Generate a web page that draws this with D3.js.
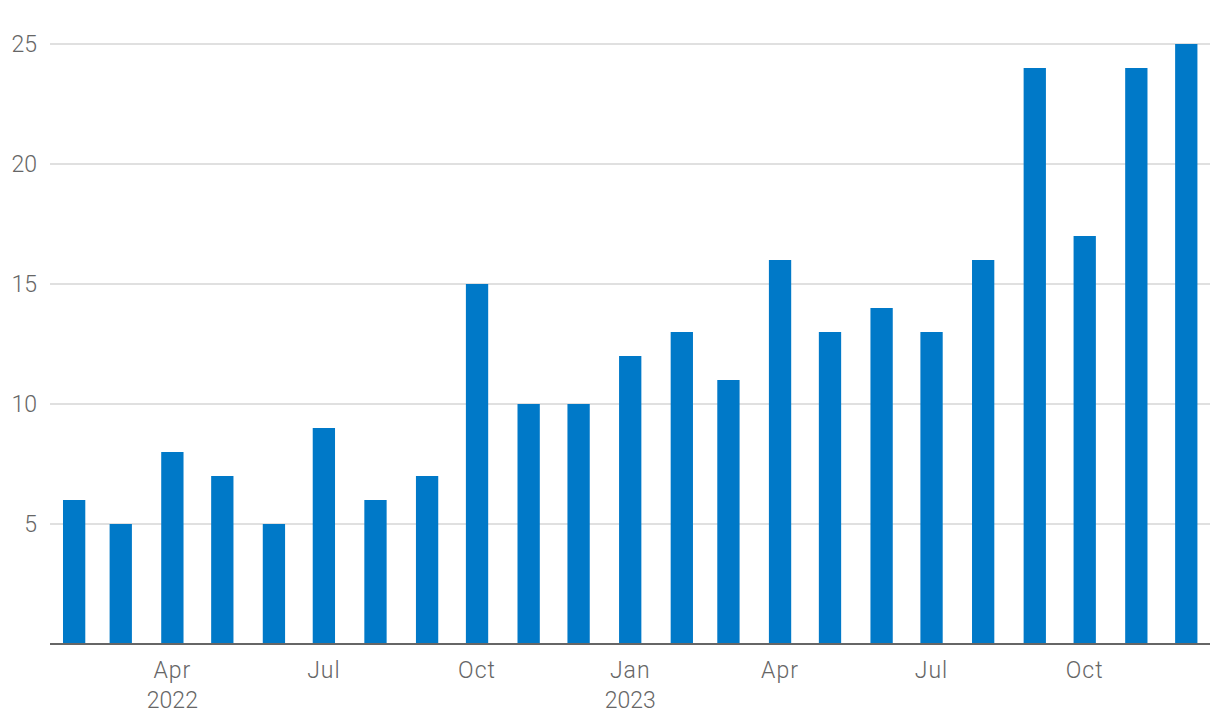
<!DOCTYPE html>
<html><head><meta charset="utf-8">
<script src="https://cdn.jsdelivr.net/npm/d3@7"></script>
<style>body{margin:0;background:#fff}svg{display:block}</style>
</head><body>
<script>
const months = ["2022-02","2022-03","2022-04","2022-05","2022-06","2022-07","2022-08","2022-09","2022-10","2022-11","2022-12","2023-01","2023-02","2023-03","2023-04","2023-05","2023-06","2023-07","2023-08","2023-09","2023-10","2023-11","2023-12"];
const values = [6,5,8,7,5,9,6,7,15,10,10,12,13,11,16,13,14,13,16,24,17,24,25];
const yTicks = [5,10,15,20,25];
const xTicks = ["2022-04","2022-07","2022-10","2023-01","2023-04","2023-07","2023-10"];

const W = 1220, H = 726;
const parse = d3.timeParse("%Y-%m");
const svg = d3.select("body").append("svg").attr("width", W).attr("height", H);
const font = "Roboto, 'Noto Sans', sans-serif";

const x = d3.scaleTime()
  .domain([new Date(2022,0,17,12), new Date(2023,11,15,6)])
  .range([50, 1210]);
const y = d3.scaleLinear().domain([0,25]).range([644,44]);

// gridlines
svg.append("g").selectAll("line").data(yTicks).join("line")
  .attr("x1",50).attr("x2",1210)
  .attr("y1",d=>y(d)).attr("y2",d=>y(d))
  .attr("stroke","#d6d6d6").attr("stroke-width",1.5);

svg.append("g").selectAll("text").data(yTicks).join("text")
  .attr("x",37).attr("y",d=>y(d)).attr("dy","0.35em")
  .attr("text-anchor","end").attr("fill","#666")
  .style("font-family",font).style("font-size","23px").style("font-weight",300)
  .text(d=>d);

const bw = 22.3;
svg.append("g").selectAll("rect").data(months).join("rect")
  .attr("x",(d)=>x(parse(d))-bw/2).attr("width",bw)
  .attr("y",(d,i)=>y(values[i])).attr("height",(d,i)=>y(0)-y(values[i]))
  .attr("fill","#0079c8");

svg.append("line").attr("x1",50).attr("x2",1210).attr("y1",644).attr("y2",644)
  .attr("stroke","#666").attr("stroke-width",2);

const fmt = d3.timeFormat("%b");
const xl = svg.append("g").selectAll("g").data(xTicks).join("g")
  .attr("transform",d=>`translate(${x(parse(d))},0)`);
xl.append("text").attr("y",678).attr("text-anchor","middle").attr("fill","#666")
  .style("font-family",font).style("font-size","23px").style("font-weight",300)
  .style("letter-spacing","1px")
  .text(d=>fmt(parse(d)));
xl.filter(d=>parse(d).getMonth()===0 || d==="2022-04").append("text")
  .attr("y",708).attr("text-anchor","middle").attr("fill","#666")
  .style("font-family",font).style("font-size","23px").style("font-weight",300)
  .text(d=>parse(d).getFullYear());
</script>
</body></html>
